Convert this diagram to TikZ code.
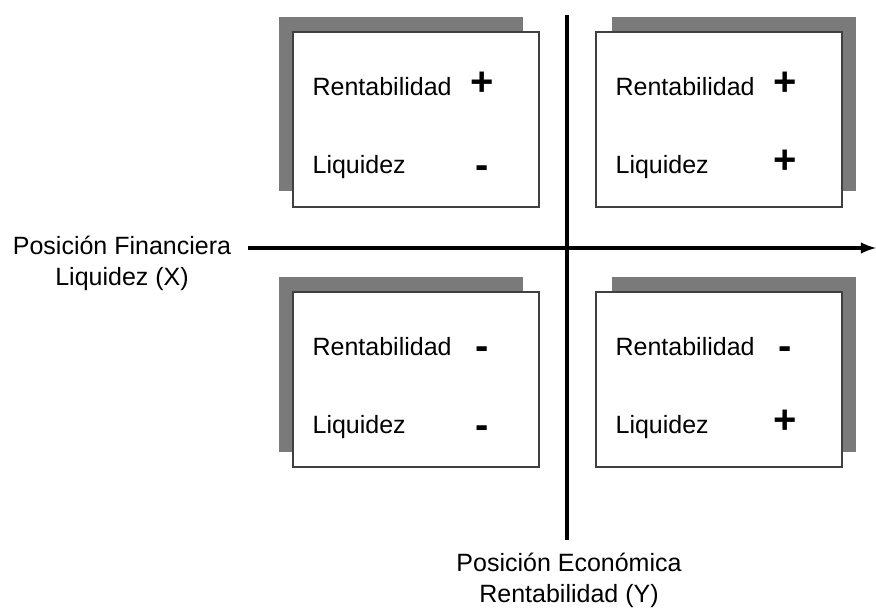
\documentclass[tikz,border=0pt]{standalone}
\usepackage{fontspec}
\setmainfont{Liberation Sans}
\usetikzlibrary{arrows,positioning}
\newcommand\menos{\raisebox{-2.2pt}{-}}

\begin{document}
\begin{tikzpicture}[x=0.5pt,y=-0.5pt,
  caja/.style={draw=black!75,line width=0.8pt,fill=white,minimum width=123pt,minimum height=87.5pt},
  sombra/.style={fill=black!52,minimum width=122pt,minimum height=87pt},
  txt/.style={font=\fontsize{12.5}{15}\selectfont,anchor=west,inner sep=0pt},
  signo/.style={font=\fontsize{20}{20}\selectfont\bfseries,inner sep=0pt,anchor=base},
  rotulo/.style={font=\fontsize{12.5}{15.5}\selectfont,align=center},
  eje/.style={line width=1.6pt}]
\useasboundingbox (0,0) rectangle (876,608);
\coordinate (xo) at (248,248);
\coordinate (xe) at (876,248);
\coordinate (yo) at (567,15);
\coordinate (ye) at (567,540);
\draw[eje,-latex] (xo) -- (xe);
\draw[eje] (yo) -- (ye);
\foreach \n/\x/\y/\d/\sa/\sb in {ci/416/119.5/-15/+/\menos, cd/719/119.5/15/+/+, ii/416/379.5/-15/\menos/\menos, id/719/379.5/15/\menos/+}{
  \node[sombra] (\n s) at (\x+\d,\y-15) {};
  \node[caja] (\n) at (\x,\y) {};
  \node[txt] (\n r) at ([xshift=10pt,yshift=-27.5pt]\n.north west) {Rentabilidad};
  \node[txt] (\n l) at ([xshift=10pt,yshift=-68pt]\n.north west) {Liquidez};
  \node[signo] (\n sr) at ([xshift=95pt]\n.north west |- \n r.base) {\sa};
  \node[signo] (\n sl) at ([xshift=95pt]\n.north west |- \n l.base) {\sb};
}
\node[rotulo] (ejex) at (122,263) {Posición Financiera\\Liquidez (X)};
\node[rotulo] (ejey) at (569,580) {Posición Económica\\Rentabilidad (Y)};
\end{tikzpicture}
\end{document}
